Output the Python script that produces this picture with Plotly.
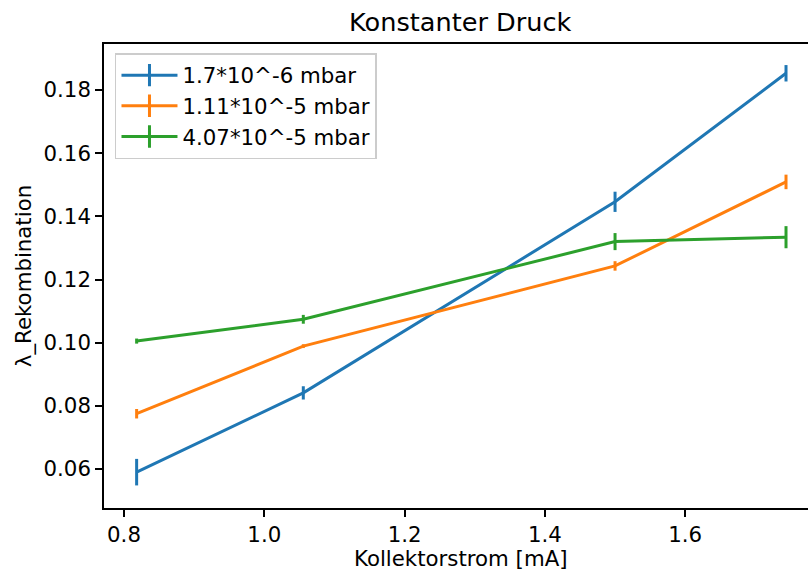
import plotly.graph_objects as go

# Kollektorstrom in mA
strom = [0.818, 1.0556, 1.5, 1.7437]

# Rekombinationskoeffizient je Druckstufe, mit Fehlern
druck_labels = ["1.7*10^-6 mbar", "1.11*10^-5 mbar", "4.07*10^-5 mbar"]
lam_p1 = [0.0590, 0.0841, 0.1446, 0.1853]
err_p1 = [0.0042, 0.0021, 0.0032, 0.0026]
lam_p2 = [0.0775, 0.0989, 0.1243, 0.1509]
err_p2 = [0.0015, 0.0006, 0.0015, 0.0023]
lam_p3 = [0.1005, 0.1074, 0.1320, 0.1334]
err_p3 = [0.0008, 0.0014, 0.0027, 0.0035]

farben = ["#1f77b4", "#ff7f0e", "#2ca02c"]

x_ticks = [0.8, 1.0, 1.2, 1.4, 1.6]
y_ticks = [0.06, 0.08, 0.10, 0.12, 0.14, 0.16, 0.18]

FONT = "DejaVu Sans"
FS = 21.3
FS_TITLE = 25.6

fig = go.Figure()

serien = [(lam_p1, err_p1), (lam_p2, err_p2), (lam_p3, err_p3)]
for i, ((werte, fehler), name, farbe) in enumerate(zip(serien, druck_labels, farben)):
    fig.add_trace(go.Scatter(
        x=strom, y=werte, mode="lines", name=name, showlegend=False,
        line=dict(color=farbe, width=3),
        error_y=dict(type="data", array=fehler, visible=True,
                     color=farbe, thickness=3, width=0),
    ))
    # legend entry drawn as a line with a vertical error tick
    fig.add_trace(go.Scatter(
        x=[None], y=[None], mode="lines+markers", name=name,
        legendgroup=f"g{i}",
        line=dict(color=farbe, width=3),
        marker=dict(symbol="line-ns", size=22, color=farbe,
                    line=dict(color=farbe, width=3)),
    ))

fig.update_layout(
    width=808, height=571,
    margin=dict(l=104, r=0, t=44, b=63),
    paper_bgcolor="white", plot_bgcolor="white",
    font=dict(family=FONT, size=FS, color="black"),
    showlegend=True,
    legend=dict(
        x=0.0156, y=0.98, xanchor="left", yanchor="top",
        bgcolor="rgba(255,255,255,0.8)", bordercolor="#cccccc", borderwidth=1.5,
        font=dict(family=FONT, size=FS, color="black"),
        tracegroupgap=0, itemwidth=56,
    ),
    xaxis=dict(
        range=[0.77149, 1.77505], tickvals=x_ticks, tickformat=".1f",
        showgrid=False, zeroline=False,
        showline=True, linecolor="black", linewidth=1.6, mirror=True,
        ticks="outside", ticklen=7, tickwidth=1.6, tickcolor="black",
        tickfont=dict(family=FONT, size=FS, color="black"),
    ),
    yaxis=dict(
        range=[0.04765, 0.19457], tickvals=y_ticks, tickformat=".2f",
        showgrid=False, zeroline=False,
        showline=True, linecolor="black", linewidth=1.6,
        ticks="outside", ticklen=7, tickwidth=1.6, tickcolor="black",
        tickfont=dict(family=FONT, size=FS, color="black"),
        title=dict(text="λ_Rekombination", standoff=6,
                   font=dict(family=FONT, size=FS, color="black")),
    ),
    annotations=[
        dict(text="Konstanter Druck", x=0.507, y=1, xref="paper", yref="paper",
             xanchor="center", yanchor="bottom", yshift=5, showarrow=False,
             font=dict(family=FONT, size=FS_TITLE, color="black")),
        dict(text="Kollektorstrom [mA]", x=0.507, y=0, xref="paper", yref="paper",
             xanchor="center", yanchor="top", yshift=-36, showarrow=False,
             font=dict(family=FONT, size=FS, color="black")),
    ],
)

fig.write_html("out.html")
